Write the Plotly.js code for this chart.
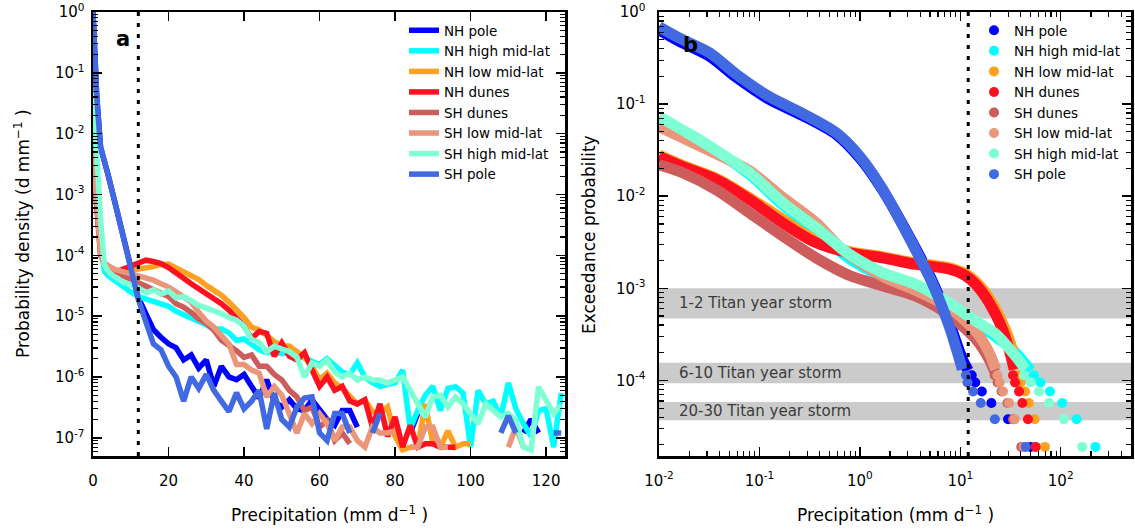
<!DOCTYPE html>
<html><head><meta charset="utf-8">
<script src="https://cdn.plot.ly/plotly-3.0.1.min.js"></script>
<style>html,body{margin:0;padding:0;background:#fff}#chart{width:1135px;height:529px}</style>
</head><body><div id="chart"></div>
<script>
const W = 1135, H = 529;

const seriesNames = ['NH pole','NH high mid-lat','NH low mid-lat','NH dunes','SH dunes','SH low mid-lat','SH high mid-lat','SH pole'];
const seriesColors = ['#0000ff','#00ffff','#ffa020','#ff1020','#cd5c5c','#e9967a','#7fffd4','#4169e1'];

// ---- panel a: probability density ----
const precipBins = [0,1,2,3,4,6,8,10,12,
14,16,18,20,22,24,26,28,30,32,
34,36,38,40,42,44,46,48,50,52,
54,56,58,60,62,64,66,68,70,72,
74,76,78,80,82,84,86,88,90,92,
94,96,98,100,102,104,106,108,110,112,
114,116,118,120,122,124];

const pdfNHpole = [
1.0, 0.04, 6e-3, 3.7e-3, 2.1e-3, 6.6e-4, 2e-4, 6.3e-5, 2e-5,
1.1e-5, 6e-6, 4.5e-6, 3.5e-6, 3e-6, 1.9e-6, 2.3e-6, 1.4e-6, 1.9e-6, 7e-7,
1.5e-6, 1.0e-6, 9e-7, 1.1e-6, 7e-7, 4.5e-7, 9e-7, 4e-7, 3.2e-7, 4.2e-7,
3e-7, 2.8e-7, 4.2e-7, 2.8e-7, 2e-7, 1.6e-7, 2.8e-7, 2.8e-7, 1.5e-7, null,
null, null, null, null, null, 1.2e-7, 2.5e-7, null, null, null,
null, null, null, null, null, null, null, null, null, null,
1.2e-7, 2e-7, 1.2e-7, null, null, null];

const pdfNHhigh = [
2e-2, 3e-3, 1.5e-4, 5.5e-5, 4.6e-5, 3.7e-5, 3e-5, 2.5e-5, 2.1e-5,
1.9e-5, 1.75e-5, 1.6e-5, 1.45e-5, 1.2e-5, 1.05e-5, 9.5e-6, 8.3e-6, 7.2e-6, 6e-6,
6.2e-6, 5.3e-6, 4e-6, 4.2e-6, 3.4e-6, 2.8e-6, 2.5e-6, 2.6e-6, 2.4e-6, 2.5e-6,
2.3e-6, 2.0e-6, 1.8e-6, 1.6e-6, 2e-6, 1.5e-6, 1.2e-6, 1.1e-6, 1.7e-6, 1.0e-6,
8e-7, 7e-7, 7.5e-7, 8e-7, 1.3e-6, 1.4e-7, 2.8e-7, 5e-7, 7e-7, 2.8e-7,
6.5e-7, 6.9e-7, 5.4e-7, 7e-8, 6e-7, 3.6e-7, 4e-7, 2.2e-7, 8e-7, 3e-7,
1.7e-7, 1.05e-7, 2.8e-7, 3e-7, 7e-8, 5.4e-7];

const pdfNHlow = [
4e-3, 6e-4, 1.2e-4, 7e-5, 6e-5, 5.2e-5, 5.4e-5, 5.6e-5, 5.8e-5,
6.2e-5, 6.5e-5, 7e-5, 7.2e-5, 6.2e-5, 5.4e-5, 4.6e-5, 4e-5, 3.2e-5, 2.7e-5,
2.2e-5, 1.7e-5, 1.3e-5, 9.5e-6, 6.6e-6, 5.9e-6, 4.8e-6, 3.8e-6, 3.3e-6, 3.2e-6,
2.6e-6, 2.1e-6, 1.5e-6, 9e-7, 1.15e-6, 8e-7, 6.5e-7, 5e-7, 3.6e-7, 4.2e-7,
2.7e-7, 2.5e-7, 3.2e-7, 1.05e-7, 6.3e-8, 7e-8, 7e-8, 3.6e-7, 8e-8, 7e-8,
1.3e-7, 7e-8, 8e-8, 8e-8, null, null, null, null, null, null,
null, null, null, null, null, null];

const pdfNHdunes = [
4e-3, 6e-4, 1e-4, 7.5e-5, 5.4e-5, 5.3e-5, 6e-5, 6.7e-5, 7.4e-5,
8.3e-5, 7.9e-5, 7.3e-5, 6.3e-5, 5e-5, 4.2e-5, 3.4e-5, 2.8e-5, 2.3e-5, 2e-5,
1.6e-5, 1.25e-5, 8.9e-6, 6.8e-6, 4.3e-6, 5.6e-6, 5.2e-6, 2.2e-6, 3.6e-6, 2.2e-6,
1.9e-6, 2.5e-6, 1.3e-6, 7e-7, 1.0e-6, 6e-7, 7e-7, 4e-7, 3.6e-7, 4.2e-7,
1.5e-7, 3.6e-7, 1.05e-7, 2.2e-7, 7e-8, 1.6e-7, 7e-8, 8e-8, 8e-8, 7e-8,
7e-8, 7e-8, null, null, null, null, null, null, null, null,
null, null, null, null, null, null];

const pdfSHdunes = [
5e-3, 8e-4, 1.1e-4, 7.4e-5, 6.6e-5, 5.6e-5, 4.6e-5, 4e-5, 3.5e-5,
3.1e-5, 2.7e-5, 2.4e-5, 2.1e-5, 1.6e-5, 1.4e-5, 1.15e-5, 9e-6, 7.6e-6, 5.9e-6,
4e-6, 3.3e-6, 2.7e-6, 2.1e-6, 2.3e-6, 1.5e-6, 1.5e-6, 1.1e-6, 8.9e-7, 6e-7,
4.7e-7, 2.8e-7, 3.2e-7, 1.5e-7, 1.9e-7, 9e-8, 1.2e-7, 8e-8, null, null,
null, null, null, null, null, null, null, null, null, null,
null, null, null, null, null, null, null, null, null, null,
null, null, null, null, null, null];

const pdfSHlow = [
5e-3, 8e-4, 1.1e-4, 7.4e-5, 6.6e-5, 5.8e-5, 5.4e-5, 5e-5, 4.7e-5,
4.2e-5, 3.9e-5, 3.4e-5, 3e-5, 2.5e-5, 2.1e-5, 1.7e-5, 1.15e-5, 8.3e-6, 6.6e-6,
4.8e-6, 3.5e-6, 1.6e-6, 1.6e-6, 1.3e-6, 1.15e-6, 4.7e-7, 6.9e-7, 5e-7, 2.5e-7,
1.2e-7, 2.5e-7, 1.7e-7, 2.5e-7, 1.7e-7, 9e-8, 1.5e-7, 1.5e-7, 9e-8, 7e-8,
1.5e-7, 1.2e-7, 1.2e-7, 1.3e-7, null, 7e-8, 7e-8, 1.5e-7, 1.5e-7, 7e-8,
7e-8, null, null, null, null, null, null, null, 7e-8, 1.5e-7,
7e-8, null, null, null, null, null];

const pdfSHhigh = [
5e-2, 4e-3, 4e-4, 7e-5, 5.4e-5, 4.3e-5, 3.6e-5, 3.3e-5, 2.9e-5,
2.4e-5, 2.7e-5, 2.3e-5, 2.6e-5, 2e-5, 2.1e-5, 1.8e-5, 1.5e-5, 1.35e-5, 1.25e-5,
1.1e-5, 9.5e-6, 8.6e-6, 6.8e-6, 4.1e-6, 3.7e-6, 2.6e-6, 3.2e-6, 2.9e-6, 2.6e-6,
2.1e-6, 1.0e-6, 1.7e-6, 1.5e-6, 1.9e-6, 1.2e-6, 1.0e-6, 1.15e-6, 8.9e-7, 1.0e-6,
9e-7, 8.9e-7, 7.9e-7, 8.9e-7, 1.0e-6, 6e-7, 3.5e-7, 2.2e-7, 4.7e-7, 5e-7,
3.2e-7, 4.7e-7, 3.6e-7, 2.5e-7, 1.7e-7, 3.6e-7, 2.8e-7, 2.2e-7, 2.5e-7, 1.9e-7,
7e-8, 6.3e-8, 6.9e-7, 4e-7, 2.5e-7, 3.5e-7];

const pdfSHpole = [
1.0, 0.04, 6e-3, 3.7e-3, 2.1e-3, 6.6e-4, 2e-4, 6.3e-5, 1.9e-5,
8e-6, 3.5e-6, 2.8e-6, 1.5e-6, 1.0e-6, 4e-7, 1.0e-6, 6.5e-7, 1.1e-6, 6e-7,
4e-7, 2.7e-7, 5.5e-7, 3e-7, 4e-7, 6e-7, 1.4e-7, 5.4e-7, 2e-7, 1.5e-7,
3.2e-7, 4.5e-7, 4.7e-7, 1.2e-7, 9e-8, 2.5e-7, 2.5e-7, 1.2e-7, null, null,
1.2e-7, 2.5e-7, null, null, null, null, null, null, null, null,
null, null, null, null, null, null, null, 1.2e-7, 2.3e-7, 1.2e-7,
null, null, null, null, 1.2e-7, 1.2e-7];

// ---- panel b: exceedance probability ----
const exNHpoleX = [0.01, 0.016, 0.032, 0.059, 0.126, 0.27, 0.58, 1.0, 1.7, 3.6, 5.3, 7.8, 10.5, 12.0];
const exNHpoleY = [0.64, 0.48, 0.33, 0.195, 0.112, 0.075, 0.047, 0.026, 0.0115, 0.0027, 0.00118, 0.00042, 0.00017, 0.000128];
const exNHhighX = [0.01, 0.025, 0.08, 0.172, 0.368, 0.79, 1.69, 3.62, 7.76, 14.3, 22.5, 35.5, 45, 50];
const exNHhighY = [0.07, 0.041, 0.0172, 0.008, 0.0042, 0.0021, 0.00134, 0.001, 0.00066, 0.00042, 0.0003, 0.0002, 0.000148, 0.000128];
const exNHlowX = [0.01, 0.0174, 0.0374, 0.08, 0.172, 0.368, 0.79, 1.69, 3.62, 7.76, 11.5, 15.0, 20.5, 28.0, 33.0, 37.5];
const exNHlowY = [0.028, 0.0215, 0.0156, 0.0096, 0.0056, 0.0033, 0.0025, 0.0022, 0.00188, 0.00167, 0.00142, 0.00112, 0.00071, 0.00036, 0.000218, 0.000132];
const exNHdunesX = [0.01, 0.0174, 0.0374, 0.08, 0.172, 0.368, 0.79, 1.69, 3.62, 7.76, 11.2, 14.3, 19.4, 26.3, 30.6, 34.4];
const exNHdunesY = [0.027, 0.0209, 0.0151, 0.0092, 0.0051, 0.00312, 0.00243, 0.00214, 0.00182, 0.00162, 0.00138, 0.0011, 0.0007, 0.00036, 0.000218, 0.000132];
const exSHdunesX = [0.01, 0.0174, 0.0374, 0.08, 0.172, 0.368, 0.79, 1.69, 3.62, 7.76, 14.3, 19.4, 22.0];
const exSHdunesY = [0.022, 0.0179, 0.0117, 0.0066, 0.00368, 0.00214, 0.00138, 0.00106, 0.00082, 0.00051, 0.00028, 0.00017, 0.000125];
const exSHlowX = [0.01, 0.025, 0.079, 0.17, 0.37, 0.676, 1.69, 3.62, 7.76, 14.3, 19.4, 22.5];
const exSHlowY = [0.057, 0.0355, 0.019, 0.0097, 0.0051, 0.0026, 0.00135, 0.00095, 0.00062, 0.00034, 0.0002, 0.000132];
const exSHhighX = [0.01, 0.025, 0.08, 0.172, 0.368, 0.79, 1.69, 3.62, 7.76, 14.3, 22.5, 35.5, 44.7];
const exSHhighY = [0.0735, 0.041, 0.0179, 0.00845, 0.00454, 0.00234, 0.00148, 0.0011, 0.00069, 0.00044, 0.00032, 0.000184, 0.000132];
const exSHpoleX = [0.01, 0.016, 0.032, 0.059, 0.126, 0.27, 0.58, 1.0, 1.7, 3.6, 5.3, 7.8, 10.5];
const exSHpoleY = [0.69, 0.52, 0.36, 0.21, 0.12, 0.079, 0.049, 0.027, 0.0117, 0.0026, 0.00112, 0.00038, 0.000132];

// largest events: exceedance levels of the last ranked values and their precipitation
const tailProb = [1.14e-4, 9.5e-5, 7.6e-5, 5.7e-5, 3.8e-5, 1.9e-5];
const tailNHpole = [13.0, 14.1, 16.4, 20.4, 29.9, 50.2];
const tailNHhigh = [54.2, 63, 78.2, 103.5, 143.8, 222];
const tailNHlow = [38.5, 40, 44.2, 48.3, 55, 69.7];
const tailNHdunes = [33.5, 35.1, 38.5, 41.5, 47.2, 56.3];
const tailSHdunes = [22.0, 23.5, 25.8, 29.5, 33.5, 40.5];
const tailSHlow = [23.4, 24.7, 26.7, 30.6, 34.8, 43];
const tailSHhigh = [43.2, 50.2, 60.8, 76.4, 107.7, 164];
const tailSHpole = [11.4, 11.8, 13.4, 16.0, 22.1, 44.8];

// storm-return bands
const bandLabels = ['1-2 Titan year storm', '6-10 Titan year storm', '20-30 Titan year storm'];
const bandLow = [4.7e-4, 9.3e-5, 3.7e-5];
const bandHigh = [1.0e-3, 1.56e-4, 5.85e-5];

const thresholdPrecip = 12;

// ticks
const pdfDecades = [1e-7, 1e-6, 1e-5, 1e-4, 1e-3, 1e-2, 1e-1, 1];
const pdfDecadeExp = [-7, -6, -5, -4, -3, -2, -1, 0];
const pdfXTicks = [0, 20, 40, 60, 80, 100, 120];
const exYDecades = [1e-4, 1e-3, 1e-2, 1e-1, 1];
const exYDecadeExp = [-4, -3, -2, -1, 0];
const exXDecades = [1e-2, 1e-1, 1, 10, 100];
const exXDecadeExp = [-2, -1, 0, 1, 2];

const pow10Label = e => '10<sup>' + (e < 0 ? '-' + (-e) : e) + '</sup>';
function minorVals(decades) {
  const out = [];
  decades.forEach(d => { for (let m = 2; m <= 9; m++) out.push(m * d); });
  return out;
}

const pdfSeries = [pdfNHpole, pdfNHhigh, pdfNHlow, pdfNHdunes, pdfSHdunes, pdfSHlow, pdfSHhigh, pdfSHpole];
const exXs = [exNHpoleX, exNHhighX, exNHlowX, exNHdunesX, exSHdunesX, exSHlowX, exSHhighX, exSHpoleX];
const exYs = [exNHpoleY, exNHhighY, exNHlowY, exNHdunesY, exSHdunesY, exSHlowY, exSHhighY, exSHpoleY];
const tails = [tailNHpole, tailNHhigh, tailNHlow, tailNHdunes, tailSHdunes, tailSHlow, tailSHhigh, tailSHpole];

const traces = [];
seriesNames.forEach((name, i) => {
  traces.push({type: 'scatter', mode: 'lines', x: precipBins, y: pdfSeries[i], name: name,
    line: {color: seriesColors[i], width: 5.5}, connectgaps: false,
    xaxis: 'x', yaxis: 'y', legend: 'legend', hoverinfo: 'skip'});
});
seriesNames.forEach((name, i) => {
  traces.push({type: 'scatter', mode: 'lines', x: exXs[i], y: exYs[i], name: name,
    line: {color: seriesColors[i], width: 11, shape: 'spline', smoothing: 0.8}, showlegend: false,
    xaxis: 'x2', yaxis: 'y2', hoverinfo: 'skip'});
  traces.push({type: 'scatter', mode: 'markers', x: tails[i], y: tailProb, name: name,
    marker: {color: seriesColors[i], size: 10, line: {width: 0}},
    xaxis: 'x2', yaxis: 'y2', legend: 'legend2', hoverinfo: 'skip'});
});

const tickFont = {family: 'DejaVu Sans', size: 15, color: '#000'};
const axisCommon = {showline: true, linewidth: 2.5, linecolor: '#000', mirror: 'ticks',
  ticks: 'inside', ticklen: 9, tickwidth: 1.5, tickcolor: '#000', showgrid: false, zeroline: false,
  tickfont: tickFont, fixedrange: true};
const minorCommon = {ticks: 'inside', ticklen: 5, tickwidth: 1.2, tickcolor: '#000', showgrid: false, tickmode: 'array'};

const yDom = [1 - 456 / H, 1 - 12 / H];
const titleFont = {family: 'DejaVu Sans', size: 17, color: '#000'};
const legendCommon = {xanchor: 'left', yanchor: 'top', y: 1 - 15 / H, bgcolor: 'rgba(0,0,0,0)', borderwidth: 0,
  font: {family: 'DejaVu Sans', size: 13.5, color: '#000'}};

const shapes = [
  {type: 'line', xref: 'x', yref: 'y domain', x0: thresholdPrecip, x1: thresholdPrecip, y0: 0, y1: 1,
    line: {color: '#000', width: 3, dash: '4px,7px'}, layer: 'above'},
  {type: 'line', xref: 'x2', yref: 'y2 domain', x0: thresholdPrecip, x1: thresholdPrecip, y0: 0, y1: 1,
    line: {color: '#000', width: 3, dash: '4px,7px'}, layer: 'above'}
];
const annotations = [
  {xref: 'paper', yref: 'paper', x: 123 / W, y: 1 - 39 / H, text: '<b>a</b>', showarrow: false,
    font: {family: 'DejaVu Sans', size: 21, color: '#000'}, xanchor: 'center', yanchor: 'middle'},
  {xref: 'paper', yref: 'paper', x: 690 / W, y: 1 - 45 / H, text: '<b>b</b>', showarrow: false,
    font: {family: 'DejaVu Sans', size: 21, color: '#000'}, xanchor: 'center', yanchor: 'middle'},
  {xref: 'paper', yref: 'paper', x: 22 / W, y: 1 - 234 / H, textangle: -90, showarrow: false,
    text: 'Probability density (d mm<sup>−1</sup> )', font: titleFont, xanchor: 'center', yanchor: 'middle'},
  {xref: 'paper', yref: 'paper', x: 589 / W, y: 1 - 234 / H, textangle: -90, showarrow: false,
    text: 'Exceedance probability', font: titleFont, xanchor: 'center', yanchor: 'middle'},
  {xref: 'paper', yref: 'paper', x: 329 / W, y: 1 - 514 / H, showarrow: false,
    text: 'Precipitation (mm d<sup>−1</sup> )', font: titleFont, xanchor: 'center', yanchor: 'middle'},
  {xref: 'paper', yref: 'paper', x: 895 / W, y: 1 - 514 / H, showarrow: false,
    text: 'Precipitation (mm d<sup>−1</sup> )', font: titleFont, xanchor: 'center', yanchor: 'middle'}
];
bandLabels.forEach((lab, i) => {
  shapes.push({type: 'rect', xref: 'x2 domain', yref: 'y2', x0: 0, x1: 1, y0: bandLow[i], y1: bandHigh[i],
    fillcolor: '#cbcbcb', line: {width: 0}, layer: 'below'});
  annotations.push({xref: 'x2 domain', yref: 'y2', x: 0.038, y: Math.log10(Math.sqrt(bandLow[i] * bandHigh[i])),
    text: lab, showarrow: false, xanchor: 'left', yanchor: 'middle',
    font: {family: 'DejaVu Sans', size: 15, color: '#3c3c3c'}});
});

const layout = {
  width: W, height: H, margin: {l: 0, r: 0, t: 0, b: 0},
  paper_bgcolor: '#fff', plot_bgcolor: 'rgba(0,0,0,0)',
  font: {family: 'DejaVu Sans', color: '#000'},
  xaxis: Object.assign({}, axisCommon, {domain: [93 / W, 565 / W], range: [0, 125], anchor: 'y',
    tickmode: 'array', tickvals: pdfXTicks, ticktext: pdfXTicks.map(String), ticklabelstandoff: 9}),
  yaxis: Object.assign({}, axisCommon, {domain: yDom, type: 'log', range: [-7.3, 0], anchor: 'x',
    tickmode: 'array', tickvals: pdfDecades, ticktext: pdfDecadeExp.map(pow10Label), ticklabelstandoff: 3,
    minor: Object.assign({}, minorCommon, {tickvals: minorVals([1e-8].concat(pdfDecades.slice(0, 7)))})}),
  xaxis2: Object.assign({}, axisCommon, {domain: [659 / W, 1131 / W], type: 'log', range: [-2, 2.7], anchor: 'y2',
    tickmode: 'array', tickvals: exXDecades, ticktext: exXDecadeExp.map(pow10Label), ticklabelstandoff: 9,
    minor: Object.assign({}, minorCommon, {tickvals: minorVals(exXDecades)})}),
  yaxis2: Object.assign({}, axisCommon, {domain: yDom, type: 'log', range: [-4.82, 0], anchor: 'x2',
    tickmode: 'array', tickvals: exYDecades, ticktext: exYDecadeExp.map(pow10Label), ticklabelstandoff: 8,
    minor: Object.assign({}, minorCommon, {tickvals: minorVals([1e-5].concat(exYDecades.slice(0, 4)))})}),
  legend: Object.assign({}, legendCommon, {x: 404 / W}),
  legend2: Object.assign({}, legendCommon, {x: 974 / W}),
  shapes: shapes,
  annotations: annotations,
  hovermode: false
};

Plotly.newPlot('chart', traces, layout, {staticPlot: true, displayModeBar: false});
</script></body></html>
